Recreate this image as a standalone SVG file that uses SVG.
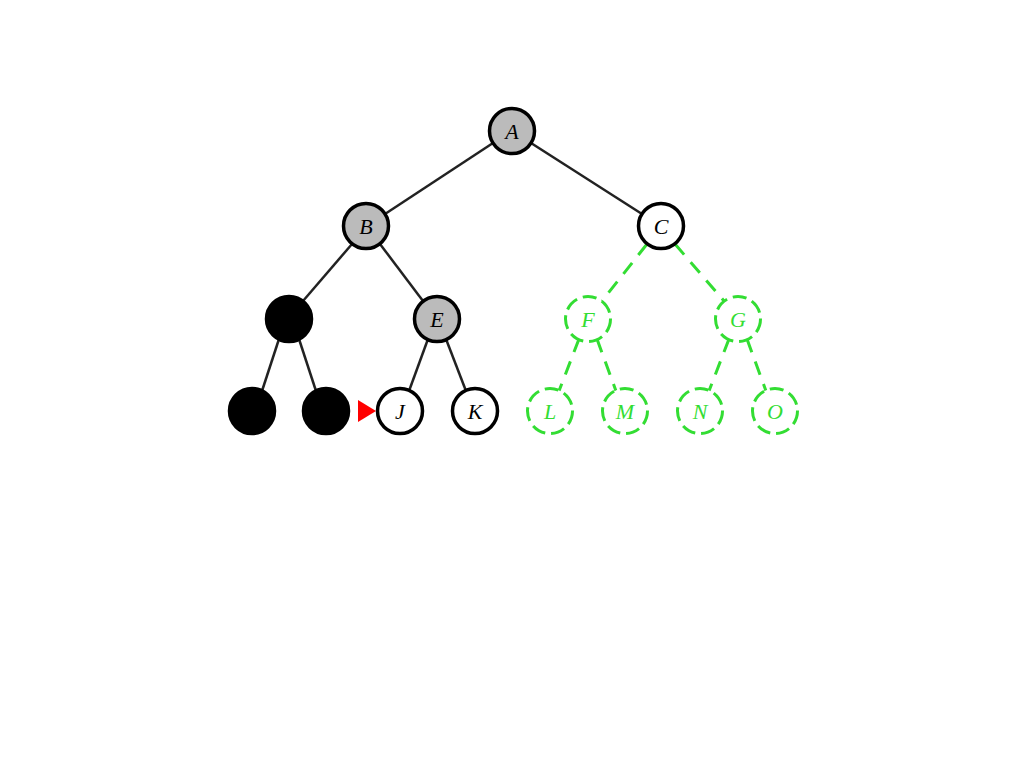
<svg xmlns="http://www.w3.org/2000/svg" width="1024" height="768" viewBox="0 0 1024 768">
<style>
.n{stroke:#000;stroke-width:3.5}
.g{fill:#bbb}
.w{fill:#fff}
.b{fill:#000}
.gr{fill:#fff;stroke:#33dd33;stroke-width:3;stroke-dasharray:14 6}
.t{font-family:"Liberation Serif",serif;font-style:italic;font-size:22px;text-anchor:middle;dominant-baseline:central;fill:#000}
.tg{fill:#33dd33}
.e{stroke:#222;stroke-width:2.5;fill:none}
.eg{stroke:#33dd33;stroke-width:3;fill:none;stroke-dasharray:14 10}
</style>
<rect width="1024" height="768" fill="#fff"/>
<g id="connectors">
<line class="e" x1="493" y1="143" x2="385" y2="214"/>
<line class="e" x1="531" y1="143" x2="642" y2="214"/>
<line class="e" x1="352" y1="244" x2="303" y2="301"/>
<line class="e" x1="380" y1="244" x2="423" y2="301"/>
<line class="e" x1="279" y1="339" x2="262" y2="391"/>
<line class="e" x1="299" y1="339" x2="316" y2="391"/>
<line class="e" x1="428" y1="339" x2="409" y2="391"/>
<line class="e" x1="446" y1="339" x2="466" y2="391"/>
<line class="eg" x1="647" y1="244" x2="602" y2="301"/>
<line class="eg" x1="675" y1="244" x2="724" y2="301"/>
<line class="eg" x1="579" y1="339" x2="559" y2="391"/>
<line class="eg" x1="597" y1="339" x2="616" y2="391"/>
<line class="eg" x1="729" y1="339" x2="709" y2="391"/>
<line class="eg" x1="747" y1="339" x2="766" y2="391"/>
</g>
<g id="A"><circle class="n g" cx="512" cy="131" r="22.5"/><text class="t" x="512" y="131">A</text></g>
<g id="B"><circle class="n g" cx="366" cy="226" r="22.5"/><text class="t" x="366" y="226">B</text></g>
<g id="C"><circle class="n w" cx="661" cy="226" r="22.5"/><text class="t" x="661" y="226">C</text></g>
<g id="D"><circle class="n b" cx="289" cy="319" r="22.5"/></g>
<g id="E"><circle class="n g" cx="437" cy="319" r="22.5"/><text class="t" x="437" y="319">E</text></g>
<g id="F"><circle class="gr" cx="588" cy="319" r="22.5"/><text class="t tg" x="588" y="319">F</text></g>
<g id="G"><circle class="gr" cx="738" cy="319" r="22.5"/><text class="t tg" x="738" y="319">G</text></g>
<g id="H"><circle class="n b" cx="252" cy="411" r="22.5"/></g>
<g id="I"><circle class="n b" cx="326" cy="411" r="22.5"/></g>
<g id="J"><circle class="n w" cx="400" cy="411" r="22.5"/><text class="t" x="400" y="411">J</text></g>
<g id="K"><circle class="n w" cx="475" cy="411" r="22.5"/><text class="t" x="475" y="411">K</text></g>
<g id="L"><circle class="gr" cx="550" cy="411" r="22.5"/><text class="t tg" x="550" y="411">L</text></g>
<g id="M"><circle class="gr" cx="625" cy="411" r="22.5"/><text class="t tg" x="625" y="411">M</text></g>
<g id="N"><circle class="gr" cx="700" cy="411" r="22.5"/><text class="t tg" x="700" y="411">N</text></g>
<g id="O"><circle class="gr" cx="775" cy="411" r="22.5"/><text class="t tg" x="775" y="411">O</text></g>
<g id="pointer"><polygon points="358,400 376,411 358,422" fill="#ff0000"/></g>
</svg>
